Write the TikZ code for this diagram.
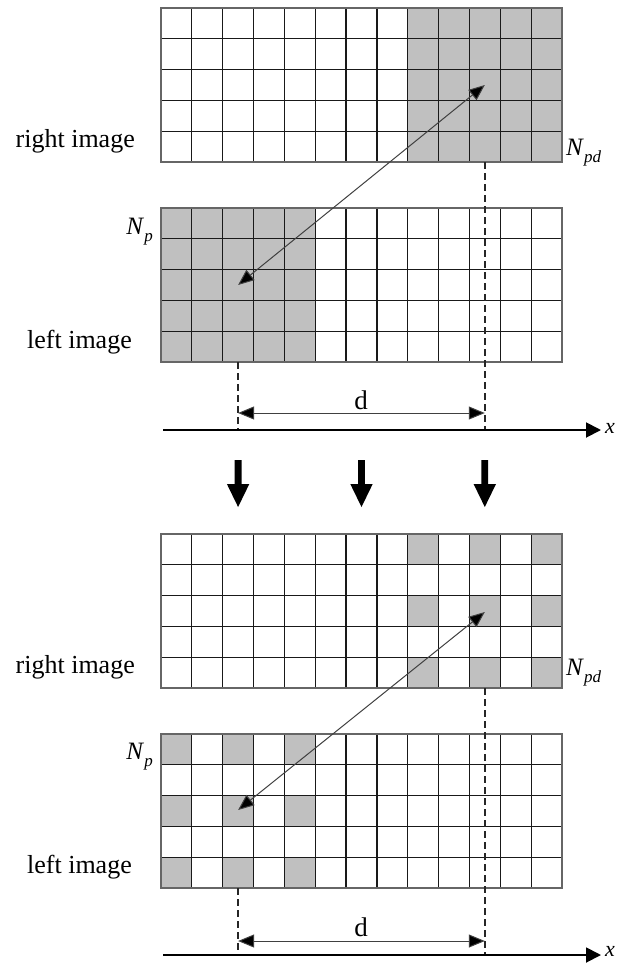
\documentclass[tikz,border=0pt]{standalone}
\usepackage{fontspec}
\setmainfont{Liberation Serif}
\usetikzlibrary{arrows.meta}
\definecolor{shadegray}{RGB}{192,192,192}
\newcommand{\mypixgrid}[1]{%
  \foreach \i in {1,...,12} \draw[gridline] ({161+\i*30.846},#1) -- ({161+\i*30.846},{#1+154});
  \foreach \j in {1,...,4} \draw[gridline] (161,{#1+\j*30.8}) -- (562,{#1+\j*30.8});
  \draw[gridborder] (161,#1) rectangle (562,{#1+154});
}
\newcommand{\mydownarrow}[1]{%
  \fill[black] ({#1-3.4},460) -- ({#1+3.4},460) -- ({#1+3.4},484) -- ({#1+11.2},484) -- (#1,507) -- ({#1-11.2},484) -- ({#1-3.4},484) -- cycle;
}
\newcommand{\mysubN}[1]{\textit{N}\raisebox{-0.28em}{\fontsize{17}{20}\selectfont\textit{#1}}}
\begin{document}
\begin{tikzpicture}[x=1pt,y=-1pt,
  gridline/.style={draw=black!90,line width=1.2pt},
  gridborder/.style={draw=black!60,line width=1.4pt},
  gridbox/.style={draw=none,minimum width=401pt,minimum height=154pt,inner sep=0pt,anchor=north west},
  biglabel/.style={font=\fontsize{26}{30}\selectfont,inner sep=0pt},
  nlabel/.style={font=\fontsize{25}{28}\selectfont,inner sep=0pt},
  dlabel/.style={font=\fontsize{27}{30}\selectfont,inner sep=0pt,anchor=base},
  thinarrow/.style={draw=black!75,line width=1pt,{Triangle[length=16pt,width=13pt,fill=black]}-{Triangle[length=16pt,width=13pt,fill=black]}},
  axisline/.style={draw=black,line width=1.9pt,-{Triangle[length=15pt,width=15pt]}},
  guide/.style={draw=black!85,line width=1.4pt,dash pattern=on 7pt off 4pt}
]
\useasboundingbox (0,0) rectangle (617,964);

% ---------- upper panel ----------
\foreach \c in {8,...,12} \foreach \r in {0,...,4}
  \fill[shadegray] ({161+\c*30.846},{8+\r*30.8}) rectangle +(30.846,30.8);
\foreach \c in {0,...,4} \foreach \r in {0,...,4}
  \fill[shadegray] ({161+\c*30.846},{208+\r*30.8}) rectangle +(30.846,30.8);
\mypixgrid{8}
\mypixgrid{208}
\node[gridbox] (rtop) at (161,8) {};
\node[gridbox] (ltop) at (161,208) {};

\node[biglabel,anchor=base east] (rlab1) at (135,147) {right image};
\node[biglabel,anchor=base east] (llab1) at (132,348) {left image};
\node[nlabel,anchor=base west] (npd1) at (566,155) {\mysubN{pd}};
\node[nlabel,anchor=base east] (np1) at (153,234) {\mysubN{p}};

\coordinate (tipR1) at (484.8,85);
\coordinate (tipL1) at (238.1,285);
\draw[thinarrow] (tipL1) -- (tipR1);

\coordinate (dR1top) at (484.8,162);
\coordinate (dR1bot) at (484.8,430);
\coordinate (dL1top) at (238.1,362);
\coordinate (dL1bot) at (238.1,430);
\draw[guide] (dR1top) -- (dR1bot);
\draw[guide] (dL1top) -- (dL1bot);

\coordinate (dA1) at (238.1,413);
\coordinate (dB1) at (484.8,413);
\draw[thinarrow] (dA1) -- (dB1);
\node[dlabel] (d1) at (361,409) {d};

\coordinate (ax1L) at (163,430);
\coordinate (ax1R) at (601,430);
\draw[axisline] (ax1L) -- (ax1R);
\node[font=\fontsize{22}{26}\selectfont\itshape,inner sep=0pt,anchor=west] (x1) at (605,428) {x};

% ---------- transition arrows ----------
\mydownarrow{238.1}
\mydownarrow{361.5}
\mydownarrow{484.8}

% ---------- lower panel ----------
\foreach \c in {8,10,12} \foreach \r in {0,2,4}
  \fill[shadegray] ({161+\c*30.846},{534+\r*30.8}) rectangle +(30.846,30.8);
\foreach \c in {0,2,4} \foreach \r in {0,2,4}
  \fill[shadegray] ({161+\c*30.846},{734+\r*30.8}) rectangle +(30.846,30.8);
\mypixgrid{534}
\mypixgrid{734}
\node[gridbox] (rbot) at (161,534) {};
\node[gridbox] (lbot) at (161,734) {};

\node[biglabel,anchor=base east] (rlab2) at (135,673) {right image};
\node[biglabel,anchor=base east] (llab2) at (132,873) {left image};
\node[nlabel,anchor=base west] (npd2) at (566,675) {\mysubN{pd}};
\node[nlabel,anchor=base east] (np2) at (153,759) {\mysubN{p}};

\coordinate (tipR2) at (484.8,612);
\coordinate (tipL2) at (238.1,810);
\draw[thinarrow] (tipL2) -- (tipR2);

\coordinate (dR2top) at (484.8,688);
\coordinate (dR2bot) at (484.8,955);
\coordinate (dL2top) at (238.1,888);
\coordinate (dL2bot) at (238.1,955);
\draw[guide] (dR2top) -- (dR2bot);
\draw[guide] (dL2top) -- (dL2bot);

\coordinate (dA2) at (238.1,941);
\coordinate (dB2) at (484.8,941);
\draw[thinarrow] (dA2) -- (dB2);
\node[dlabel] (d2) at (361,936) {d};

\coordinate (ax2L) at (163,955);
\coordinate (ax2R) at (601,955);
\draw[axisline] (ax2L) -- (ax2R);
\node[font=\fontsize{22}{26}\selectfont\itshape,inner sep=0pt,anchor=west] (x2) at (605,951) {x};
\end{tikzpicture}
\end{document}
